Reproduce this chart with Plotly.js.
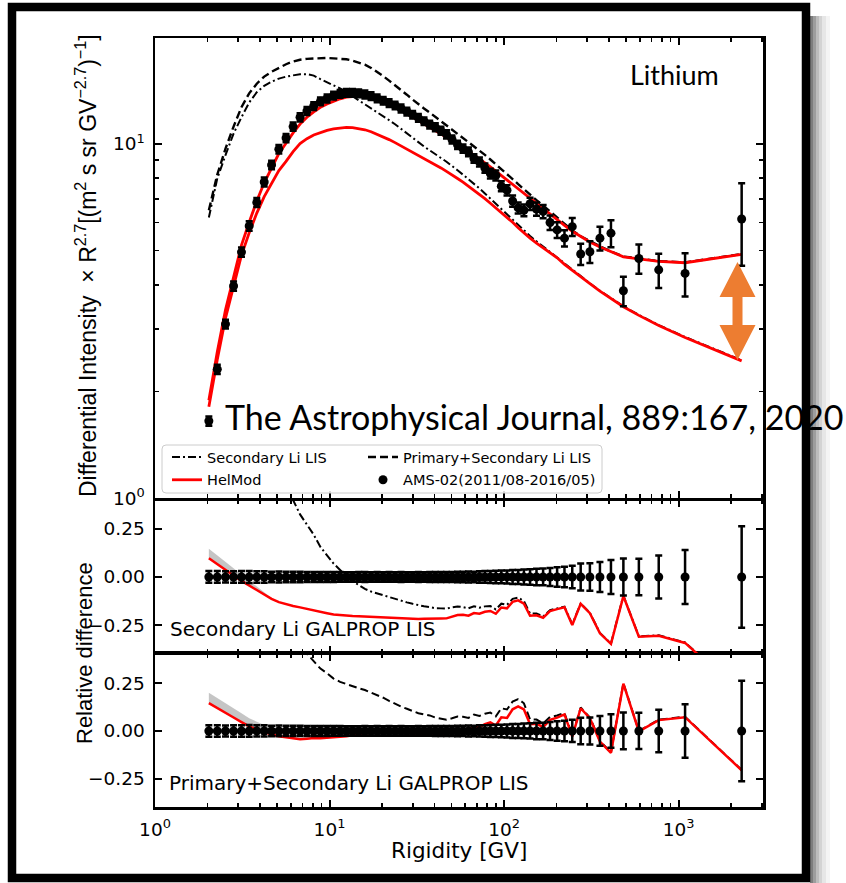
<!DOCTYPE html>
<html>
<head>
<meta charset="utf-8">
<script src="https://cdn.plot.ly/plotly-3.0.1.min.js"></script>
<style>
  html, body { margin: 0; padding: 0; background: #ffffff; }
  #chart { width: 846px; height: 883px; }
</style>
</head>
<body>
<div id="chart"></div>
<script>
// Lithium: AMS-02 rigidity bins (bin centres, GV)
const rigidity = [2.035, 2.275, 2.535, 2.82, 3.13, 3.465, 3.83, 4.225, 4.655, 5.125,
  5.635, 6.185, 6.78, 7.425, 8.12, 8.87, 9.68, 10.55, 11.5, 12.5,
  13.55, 14.7, 15.95, 17.3, 18.75, 20.3, 21.95, 23.75, 25.7, 27.75,
  29.95, 32.3, 34.8, 37.5, 40.4, 43.5, 46.8, 50.35, 54.15, 58.2,
  62.55, 67.25, 72.3, 77.7, 83.5, 89.75, 96.5, 104, 112, 120.5,
  130, 141, 153.5, 167.5, 183.5, 201.5, 222, 246, 275, 310.5,
  354.5, 410, 483, 592.5, 770, 1090, 2300];

// AMS-02 (2011/08-2016/05) intensity x R^2.7 and its uncertainty
const amsFlux = [1.65, 2.31, 3.10, 3.97, 4.95, 5.87, 6.84, 7.81, 8.73, 9.67,
  10.4, 11.2, 11.9, 12.4, 12.8, 13.2, 13.45, 13.7, 13.85, 13.95,
  13.95, 13.9, 13.8, 13.65, 13.45, 13.25, 13.05, 12.85, 12.6, 12.35,
  12.1, 11.85, 11.6, 11.35, 11.15, 10.9, 10.65, 10.3, 9.95, 9.7,
  9.5, 9.1, 8.9, 8.55, 8.25, 8.15, 7.6, 7.4, 6.9, 6.6,
  6.5, 6.78, 6.55, 6.45, 6.0, 5.72, 5.42, 5.84, 4.89, 4.96,
  5.42, 5.6, 3.85, 4.75, 4.41, 4.31, 6.14];
const amsErr = [0.05, 0.07, 0.09, 0.12, 0.15, 0.18, 0.20, 0.23, 0.24, 0.27,
  0.28, 0.30, 0.32, 0.32, 0.33, 0.34, 0.35, 0.35, 0.35, 0.35,
  0.35, 0.35, 0.35, 0.34, 0.34, 0.33, 0.33, 0.32, 0.32, 0.31,
  0.30, 0.30, 0.29, 0.29, 0.29, 0.28, 0.28, 0.27, 0.27, 0.26,
  0.27, 0.25, 0.26, 0.26, 0.26, 0.26, 0.25, 0.25, 0.25, 0.24,
  0.25, 0.27, 0.28, 0.28, 0.28, 0.29, 0.29, 0.34, 0.34, 0.35,
  0.42, 0.49, 0.37, 0.45, 0.49, 0.60, 1.61];

// HelMod modulated spectra, same rigidities
const helmodSecondary = [1.81, 2.46, 3.22, 4.00, 4.85, 5.61, 6.38, 7.10, 7.74, 8.41,
  8.93, 9.52, 10.03, 10.35, 10.6, 10.79, 10.93, 11.04, 11.11, 11.14,
  11.13, 11.07, 10.97, 10.83, 10.66, 10.48, 10.29, 10.09, 9.88, 9.67,
  9.46, 9.27, 9.1, 8.92, 8.74, 8.56, 8.37, 8.19, 7.99, 7.80,
  7.60, 7.40, 7.21, 7.01, 6.80, 6.60, 6.40, 6.20, 6.01, 5.80,
  5.60, 5.42, 5.25, 5.09, 4.94, 4.77, 4.57, 4.39, 4.21, 4.03,
  3.84, 3.66, 3.47, 3.28, 3.07, 2.84, 2.44];
const helmodPrimarySecondary = [1.89, 2.59, 3.40, 4.25, 5.18, 6.01, 6.90, 7.77, 8.57, 9.40,
  10.05, 10.75, 11.38, 11.9, 12.33, 12.7, 12.97, 13.22, 13.42, 13.56,
  13.64, 13.66, 13.62, 13.52, 13.37, 13.18, 12.96, 12.72, 12.46, 12.19,
  11.92, 11.66, 11.42, 11.18, 10.95, 10.72, 10.5, 10.25, 10.02, 9.78,
  9.55, 9.31, 9.08, 8.85, 8.62, 8.38, 8.14, 7.90, 7.68, 7.45,
  7.23, 7.02, 6.80, 6.58, 6.35, 6.12, 5.89, 5.67, 5.47, 5.29,
  5.12, 4.96, 4.80, 4.74, 4.66, 4.62, 4.88];
// upper edge of the HelMod uncertainty at low rigidity
const helmodSecondaryUpper = [1.89, 2.57, 3.35, 4.15, 5.01, 5.76, 6.51, 7.19, 7.78];
const helmodPrimarySecondaryUpper = [1.98, 2.71, 3.55, 4.44, 5.41, 6.26, 7.18, 8.05, 8.84, 9.61, 10.18, 10.75];

// GALPROP local interstellar spectra
const lisSecondary = [6.2, 8.0, 9.3, 10.7, 11.9, 13.1, 14.0, 14.6, 15.0, 15.3,
  15.5, 15.65, 15.75, 15.75, 15.6, 15.25, 14.95, 14.65, 14.35, 14.0,
  13.65, 13.3, 12.95, 12.62, 12.3, 11.99, 11.68, 11.37, 11.05, 10.73,
  10.42, 10.12, 9.84, 9.58, 9.35, 9.13, 8.91, 8.68, 8.43, 8.19,
  7.96, 7.72, 7.49, 7.25, 7.01, 6.78, 6.55, 6.33, 6.12, 5.9,
  5.69, 5.5, 5.31, 5.13, 4.97, 4.79, 4.59, 4.41, 4.22, 4.04,
  3.85, 3.67, 3.48, 3.29, 3.08, 2.85, 2.45];
const lisPrimarySecondary = [6.5, 8.2, 9.7, 11.2, 12.7, 13.9, 14.8, 15.5, 16.0, 16.4,
  16.8, 17.1, 17.3, 17.4, 17.45, 17.5, 17.5, 17.45, 17.4, 17.35,
  17.2, 17.0, 16.75, 16.4, 16.0, 15.55, 15.1, 14.66, 14.2, 13.78,
  13.35, 12.95, 12.6, 12.27, 11.93, 11.6, 11.28, 10.98, 10.7, 10.42,
  10.15, 9.88, 9.6, 9.32, 9.04, 8.77, 8.5, 8.23, 7.96, 7.7,
  7.44, 7.19, 6.94, 6.7, 6.44, 6.18, 5.93, 5.7, 5.49, 5.31,
  5.14, 4.97, 4.81, 4.75, 4.67, 4.63, 4.89];

// tick labels
const xTickVals = [1, 10, 100, 1000];
const xTickText = ['10<sup>0</sup>', '10<sup>1</sup>', '10<sup>2</sup>', '10<sup>3</sup>'];
const yTickVals = [1, 10];
const yTickText = ['10<sup>0</sup>', '10<sup>1</sup>'];

// ---- derived quantities for the ratio panels ----
const relDiff = (model) => model.map((v, i) => v / amsFlux[i] - 1);
const relErr = amsErr.map((e, i) => e / amsFlux[i]);
const zeros = rigidity.map(() => 0);

// minor tick positions on log axes
const minorX = [];
for (let d = 1; d <= 1000; d *= 10) for (let k = 2; k <= 9; k++) minorX.push(k * d);
const minorY = [2, 3, 4, 5, 6, 7, 8, 9];

// plot area in page pixels, used to place decorations
const AREA = { l: 155, r: 763, t: 38, b: 807 };
const px = (x) => (x - AREA.l) / (AREA.r - AREA.l);
const py = (y) => (AREA.b - y) / (AREA.b - AREA.t);

const BLACK = '#000000';
const RED = '#ff0000';
const DASHDOT = '8px,3px,2px,3px';
const DASHED = '8px,4px';
const tickFont = { family: 'DejaVu Sans', size: 18.5, color: BLACK };

const xRange = [0, 3.484];

function xAxis(anchor, labels) {
  return {
    type: 'log', range: xRange, anchor: anchor,
    tickmode: 'array', tickvals: xTickVals, ticktext: xTickText,
    ticks: 'inside', ticklen: 7, tickwidth: 2, tickcolor: BLACK,
    showline: true, linewidth: 2.5, linecolor: BLACK, mirror: 'ticks',
    showgrid: false, zeroline: false, showticklabels: labels,
    tickfont: tickFont, ticklabelstandoff: 4,
    minor: { tickmode: 'array', tickvals: minorX, ticks: 'inside', ticklen: 4,
             tickwidth: 1.8, tickcolor: BLACK, showgrid: false }
  };
}
function relAxis(anchor, domain, range) {
  return {
    anchor: anchor, domain: domain, range: range,
    tickmode: 'array', tickvals: [-0.25, 0, 0.25], ticktext: ['\u22120.25', '0.00', '0.25'],
    ticks: 'inside', ticklen: 7, tickwidth: 2, tickcolor: BLACK,
    showline: true, linewidth: 2.5, linecolor: BLACK, mirror: 'ticks',
    showgrid: false, zeroline: false, tickfont: tickFont, ticklabelstandoff: 4
  };
}

const traces = [];

// ---------- top panel: spectra ----------
traces.push({
  x: rigidity, y: lisSecondary, xaxis: 'x3', yaxis: 'y3', mode: 'lines',
  name: 'Secondary Li LIS', legend: 'legend', legendgroup: 'a',
  line: { color: BLACK, width: 2, dash: DASHDOT }
});
traces.push({
  x: rigidity, y: lisPrimarySecondary, xaxis: 'x3', yaxis: 'y3', mode: 'lines',
  name: 'Primary+Secondary Li LIS', legend: 'legend2', legendgroup: 'b',
  line: { color: BLACK, width: 2.4, dash: DASHED }
});
traces.push({
  x: rigidity, y: helmodSecondary, xaxis: 'x3', yaxis: 'y3', mode: 'lines',
  name: 'HelMod', legend: 'legend', legendgroup: 'c',
  line: { color: RED, width: 2.8 }
});
traces.push({
  x: rigidity, y: helmodPrimarySecondary, xaxis: 'x3', yaxis: 'y3', mode: 'lines',
  name: 'HelMod', showlegend: false,
  line: { color: RED, width: 2.8 }
});
traces.push({
  x: rigidity, y: amsFlux, xaxis: 'x3', yaxis: 'y3', mode: 'markers',
  name: 'AMS-02(2011/08-2016/05)', legend: 'legend2', legendgroup: 'd',
  marker: { color: BLACK, size: 9 },
  error_y: { type: 'data', array: amsErr, color: BLACK, thickness: 2.5, width: 3.5 }
});

// ---------- ratio panels ----------
function ratioPanel(xa, ya, upper, model, lis, lisDash) {
  const n = upper.length;
  const modelRel = relDiff(model);
  traces.push({
    x: rigidity.slice(0, n), y: modelRel.slice(0, n), xaxis: xa, yaxis: ya,
    mode: 'lines', line: { width: 0, color: 'rgba(0,0,0,0)' }, showlegend: false
  });
  traces.push({
    x: rigidity.slice(0, n), y: upper.map((v, i) => v / amsFlux[i] - 1), xaxis: xa, yaxis: ya,
    mode: 'lines', line: { width: 0, color: 'rgba(0,0,0,0)' }, fill: 'tonexty',
    fillcolor: 'rgba(150,150,150,0.55)', showlegend: false
  });
  traces.push({
    x: rigidity, y: relDiff(lis), xaxis: xa, yaxis: ya, mode: 'lines',
    line: { color: BLACK, width: 2, dash: lisDash }, showlegend: false
  });
  traces.push({
    x: rigidity, y: modelRel, xaxis: xa, yaxis: ya, mode: 'lines',
    line: { color: RED, width: 2.5 }, showlegend: false
  });
  traces.push({
    x: rigidity, y: zeros, xaxis: xa, yaxis: ya, mode: 'markers',
    marker: { color: BLACK, size: 9 }, showlegend: false,
    error_y: { type: 'data', array: relErr, color: BLACK, thickness: 2.5, width: 3.5 }
  });
}
ratioPanel('x2', 'y2', helmodSecondaryUpper, helmodSecondary, lisSecondary, DASHDOT);
ratioPanel('x', 'y', helmodPrimarySecondaryUpper, helmodPrimarySecondary, lisPrimarySecondary, DASHED);

// ---------- decorations ----------
const shapes = [];
// legend frame
(function () {
  const x0 = px(162), x1 = px(602), y0 = py(493), y1 = py(445);
  const rx = 4 / 608, ry = 4 / 769;
  shapes.push({
    type: 'path', xref: 'paper', yref: 'paper', layer: 'above',
    path: `M ${x0 + rx} ${y0} L ${x1 - rx} ${y0} Q ${x1} ${y0} ${x1} ${y0 + ry} L ${x1} ${y1 - ry} ` +
          `Q ${x1} ${y1} ${x1 - rx} ${y1} L ${x0 + rx} ${y1} Q ${x0} ${y1} ${x0} ${y1 - ry} ` +
          `L ${x0} ${y0 + ry} Q ${x0} ${y0} ${x0 + rx} ${y0} Z`,
    line: { color: '#cccccc', width: 1 }, fillcolor: 'rgba(255,255,255,0.85)'
  });
})();
// double-headed arrow
(function () {
  const cx = 737.5, hw = 18, sw = 5;
  const pts = [[cx, 262], [cx + hw, 297], [cx + sw, 297], [cx + sw, 325], [cx + hw, 325],
               [cx, 360], [cx - hw, 325], [cx - sw, 325], [cx - sw, 297], [cx - hw, 297]];
  shapes.push({
    type: 'path', xref: 'paper', yref: 'paper', layer: 'above',
    path: 'M ' + pts.map(p => px(p[0]) + ' ' + py(p[1])).join(' L ') + ' Z',
    fillcolor: '#ED7D31', line: { width: 0 }
  });
})();
// drop shadow on the right of the frame
[['#7d7d7d', 810, 813], ['#9d9d9d', 813, 816], ['#bcbcbc', 816, 819],
 ['#d3d3d3', 819, 822], ['#e6e6e6', 822, 826], ['#f4f4f4', 826, 830]].forEach(s => {
  shapes.push({
    type: 'rect', xref: 'paper', yref: 'paper', layer: 'above',
    x0: px(s[1]), x1: px(s[2]), y0: py(890), y1: py(16),
    fillcolor: s[0], line: { width: 0 }
  });
});
// outer frame
shapes.push({
  type: 'rect', xref: 'paper', yref: 'paper', layer: 'above',
  x0: px(12), x1: px(806), y0: py(878), y1: py(7),
  line: { color: BLACK, width: 8.5 }, fillcolor: 'rgba(0,0,0,0)'
});

const annotations = [
  { text: 'Lithium', x: px(674), y: py(75), xref: 'paper', yref: 'paper',
    xanchor: 'center', yanchor: 'middle', showarrow: false,
    font: { family: 'Lato', size: 27, color: BLACK } },
  { text: 'Secondary Li GALPROP LIS', x: px(168), y: py(629), xref: 'paper', yref: 'paper',
    xanchor: 'left', yanchor: 'middle', showarrow: false,
    font: { family: 'DejaVu Sans', size: 20, color: BLACK } },
  { text: 'Primary+Secondary Li GALPROP LIS', x: px(167), y: py(783), xref: 'paper', yref: 'paper',
    xanchor: 'left', yanchor: 'middle', showarrow: false,
    font: { family: 'DejaVu Sans', size: 20, color: BLACK } },
  { text: 'Differential Intensity  \u00d7 R<sup>2.7</sup>[(m<sup>2</sup> s sr GV<sup>\u22122.7</sup>)<sup>\u22121</sup>]',
    x: px(86), y: py(266), xref: 'paper', yref: 'paper', textangle: -90,
    xanchor: 'center', yanchor: 'middle', showarrow: false,
    font: { family: 'Liberation Sans', size: 23, color: BLACK } },
  { text: 'Relative difference', x: px(84), y: py(653), xref: 'paper', yref: 'paper', textangle: -90,
    xanchor: 'center', yanchor: 'middle', showarrow: false,
    font: { family: 'Liberation Sans', size: 22, color: BLACK } },
  { text: 'Rigidity [GV]', x: 0.5, y: py(851), xref: 'paper', yref: 'paper',
    xanchor: 'center', yanchor: 'middle', showarrow: false,
    font: { family: 'DejaVu Sans', size: 21.5, color: BLACK } },
  { text: 'The Astrophysical Journal, 889:167, 2020', x: px(223), y: py(417), xref: 'paper', yref: 'paper',
    xanchor: 'left', yanchor: 'middle', showarrow: false,
    font: { family: 'Lato', size: 34, color: BLACK } }
];

const legendFont = { family: 'DejaVu Sans', size: 14.5, color: BLACK };
const layout = {
  width: 846, height: 883,
  margin: { l: AREA.l, r: 846 - AREA.r, t: AREA.t, b: 883 - AREA.b, pad: 0 },
  paper_bgcolor: '#ffffff', plot_bgcolor: '#ffffff',
  showlegend: true, hovermode: false,
  xaxis: xAxis('y', true),
  xaxis2: xAxis('y2', false),
  xaxis3: xAxis('y3', false),
  yaxis: relAxis('x', [0, 0.199], [-0.397, 0.402]),
  yaxis2: relAxis('x2', [0.2003, 0.3992], [-0.393, 0.398]),
  yaxis3: {
    type: 'log', anchor: 'x3', domain: [0.4018, 1], range: [0, 1.2994],
    tickmode: 'array', tickvals: yTickVals, ticktext: yTickText,
    ticks: 'inside', ticklen: 7, tickwidth: 2, tickcolor: BLACK,
    showline: true, linewidth: 2.5, linecolor: BLACK, mirror: 'ticks',
    showgrid: false, zeroline: false, tickfont: tickFont, ticklabelstandoff: 4,
    minor: { tickmode: 'array', tickvals: minorY, ticks: 'inside', ticklen: 4,
             tickwidth: 1.8, tickcolor: BLACK, showgrid: false }
  },
  legend: {
    x: px(167), y: py(441), xanchor: 'left', yanchor: 'top', orientation: 'v',
    bgcolor: 'rgba(0,0,0,0)', borderwidth: 0, font: legendFont,
    tracegroupgap: 1, itemwidth: 30
  },
  legend2: {
    x: px(363), y: py(441), xanchor: 'left', yanchor: 'top', orientation: 'v',
    bgcolor: 'rgba(0,0,0,0)', borderwidth: 0, font: legendFont,
    tracegroupgap: 1, itemwidth: 30
  },
  shapes: shapes,
  annotations: annotations
};

Plotly.newPlot('chart', traces, layout, { staticPlot: true, displayModeBar: false });
</script>
</body>
</html>
